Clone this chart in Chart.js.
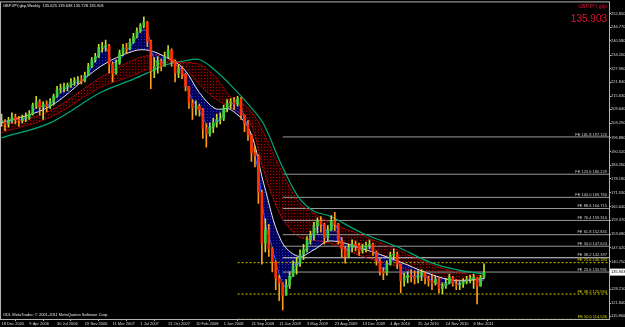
<!DOCTYPE html>
<html>
<head>
<meta charset="utf-8">
<script src="https://cdn.jsdelivr.net/npm/chart.js@4.4.1/dist/chart.umd.min.js"></script>
<style>
  html, body { margin: 0; padding: 0; background: #000; }
  canvas { display: block; }
</style>
</head>
<body>
<canvas id="chart" width="625" height="327"></canvas>
<script>
// header texts
const title = 'GBPJPY,gbp,Weekly  135.625 139.638 135.728 135.903';
const symbolName = 'GBPJPY,gbp';
const bidPrice = 135.903;
const copyright = 'ODL MetaTrader, \u00a9 2001-2011 MetaQuotes Software Corp.';

// x axis: week number counted from 18 Dec 2005
const dateLabels = ['18 Dec 2005', '9 Apr 2006', '30 Jul 2006', '19 Nov 2006', '11 Mar 2007', '1 Jul 2007',
  '21 Oct 2007', '10 Feb 2008', '1 Jun 2008', '21 Sep 2008', '11 Jan 2009', '3 May 2009',
  '23 Aug 2009', '13 Dec 2009', '4 Apr 2010', '25 Jul 2010', '14 Nov 2010', '6 Mar 2011'];
const dateWeeks = [0, 16, 32, 48, 64, 80, 96, 112, 128, 144, 160, 176, 192, 208, 224, 240, 256, 272];

// y axis labels
const priceTicks = [252.850, 246.770, 240.580, 234.200, 227.960, 221.840, 215.630, 209.640, 203.290,
  196.880, 190.520, 184.260, 178.180, 171.930, 165.640, 159.370, 153.080, 147.020, 140.750,
  128.210, 121.840, 115.860];

// price bars, one every 2 weeks
const closes = [
  204.0, 203.0, 204.5, 206.0, 205.0, 204.5, 205.5, 206.0, 207.5, 211.5,
  213.0, 210.5, 212.0, 211.0, 213.0, 215.5, 218.5, 219.0, 220.0, 220.5,
  222.0, 222.5, 223.0, 222.5, 225.0, 229.0, 232.0, 233.5, 237.5, 238.0,
  238.5, 230.0, 226.0, 230.5, 235.0, 237.5, 237.0, 240.0, 242.5, 245.0,
  247.5, 249.0, 240.5, 227.0, 229.0, 231.5, 229.0, 233.5, 236.5, 231.5,
  226.0, 228.0, 225.5, 220.0, 212.5, 210.5, 211.0, 209.5, 201.0, 198.5,
  201.5, 203.5, 205.0, 205.5, 210.0, 212.5, 213.0, 212.0, 214.5, 207.0,
  203.0, 198.0, 190.0, 188.5, 172.0, 149.0, 155.0, 146.5, 140.5, 133.0,
  131.0, 125.5, 130.0, 134.0, 138.5, 140.0, 144.0, 146.0, 150.5, 152.5,
  157.0, 159.0, 157.5, 151.5, 155.0, 159.0, 157.5, 150.0, 146.5, 143.0,
  147.0, 148.5, 148.0, 145.5, 146.5, 148.0, 148.5, 145.0, 141.0, 136.0,
  135.5, 139.5, 143.5, 144.0, 139.5, 132.0, 133.5, 134.5, 134.0, 133.0,
  134.5, 135.5, 133.0, 132.0, 131.0, 132.5, 128.5, 129.5, 131.0, 133.5,
  130.5, 130.0, 130.5, 131.5, 132.5, 133.0, 133.5, 129.5, 133.5, 135.903
];
const highs = [
  207.5, 205.0, 206.0, 208.0, 207.5, 206.5, 207.0, 208.0, 209.0, 212.5,
  215.5, 214.0, 213.0, 213.5, 214.5, 216.5, 220.0, 221.0, 221.5, 221.5,
  223.5, 224.0, 224.5, 225.0, 226.5, 230.5, 233.0, 235.0, 239.0, 240.0,
  241.0, 239.0, 231.0, 232.0, 236.5, 239.0, 239.5, 241.5, 244.0, 246.5,
  248.5, 251.5, 249.5, 241.0, 233.0, 233.5, 232.5, 235.5, 238.5, 237.0,
  232.0, 230.0, 229.0, 226.0, 220.0, 214.0, 213.5, 212.0, 210.0, 203.0,
  203.5, 205.5, 207.5, 208.0, 211.5, 214.0, 214.5, 215.0, 215.5, 215.0,
  207.0, 204.5, 198.5, 193.0, 189.0, 173.0, 160.0, 157.5, 147.0, 141.0,
  134.5, 131.0, 132.5, 136.0, 141.0, 142.5, 146.0, 148.5, 152.0, 154.5,
  158.5, 160.5, 161.0, 158.0, 157.0, 161.5, 163.0, 158.0, 151.5, 147.5,
  148.5, 150.5, 150.0, 149.0, 148.5, 149.5, 150.5, 149.0, 145.5, 142.0,
  138.0, 141.0, 145.0, 146.5, 145.0, 139.5, 135.5, 136.0, 137.0, 136.5,
  136.5, 137.0, 136.0, 134.0, 134.5, 134.0, 133.0, 131.0, 133.0, 135.0,
  134.0, 132.5, 131.5, 133.0, 134.0, 134.5, 135.0, 133.5, 134.5, 139.638
];
const lows = [
  202.0, 200.0, 201.5, 203.5, 203.0, 202.0, 203.5, 204.0, 205.0, 207.0,
  210.0, 207.0, 205.0, 208.5, 210.0, 211.5, 215.0, 217.0, 217.5, 218.0,
  219.5, 220.5, 221.0, 221.0, 222.0, 225.0, 228.5, 231.0, 233.0, 235.5,
  236.0, 226.0, 222.0, 225.5, 230.0, 234.0, 235.0, 236.5, 239.5, 242.0,
  244.5, 246.5, 238.0, 219.0, 224.0, 226.0, 227.0, 229.5, 233.0, 229.0,
  222.0, 224.0, 223.5, 218.0, 210.0, 205.0, 207.0, 206.5, 196.5, 192.5,
  197.5, 199.0, 201.5, 203.0, 204.5, 208.5, 210.0, 209.5, 211.0, 205.0,
  199.5, 195.5, 186.0, 183.5, 167.0, 139.5, 145.0, 143.0, 136.0, 128.0,
  123.0, 118.8, 125.5, 128.5, 134.0, 135.0, 138.5, 141.5, 145.0, 148.5,
  150.5, 153.5, 154.0, 148.5, 150.0, 154.5, 154.5, 148.5, 142.5, 140.0,
  142.5, 145.0, 145.5, 143.5, 144.5, 145.0, 146.5, 143.5, 139.0, 134.5,
  132.5, 134.5, 139.0, 142.0, 137.5, 126.5, 129.5, 131.0, 131.5, 130.5,
  131.0, 132.0, 130.5, 129.5, 128.0, 130.0, 126.5, 126.0, 128.5, 130.5,
  129.5, 128.0, 128.0, 129.0, 130.5, 131.0, 128.5, 121.5, 129.5, 133.0
];

// moving average ribbon
const blueWeeks = [0, 4, 8, 12, 16, 20, 24, 28, 32, 36, 40, 44, 48, 52, 56, 60, 64, 68, 72, 76, 80, 84,
  88, 92, 96, 100, 104, 108, 112, 116, 120, 124, 128, 132, 136, 140, 144, 148, 152, 156, 160, 164, 168,
  172, 176, 180, 184, 188, 192, 196, 200, 204, 208, 212, 216, 220, 224, 228, 232, 236, 240, 244, 248,
  252, 256, 260, 264, 268, 272, 276, 278];
const blueValues = [204.5, 204, 205, 205, 206.5, 210.5, 211, 212, 215.5, 218.5, 220.5, 222, 223.5, 229,
  234.5, 237.5, 231, 232, 236, 240, 245, 245, 232, 230.5, 233.5, 230, 227, 217, 211.5, 206, 201, 203.5,
  207.5, 211.5, 213, 206, 195, 181, 158, 147, 135, 129, 135, 141, 147.5, 154, 157.5, 154.5, 157.5, 150,
  145.5, 147.5, 146.5, 147.5, 143, 137, 140.5, 141, 134, 134, 134, 134, 132, 130.5, 130, 131.5, 130.5,
  132, 133, 131.5, 133];
const maWeeks = [0, 28, 57, 76, 85, 95, 105, 114, 123, 132, 143, 151, 161, 171, 180, 189, 208, 228, 247, 262, 278];
const whiteValues = [203.5, 211, 229, 236, 236.3, 233.1, 228, 217.2, 210, 209.5, 200, 176.2, 150.3, 143,
  146, 150, 146.5, 141, 135, 132, 133];
const redInnerValues = [202, 209, 224, 232, 234, 233.5, 229, 220.8, 214.5, 210.4, 204, 182, 161.3, 152.1,
  150.3, 149, 143, 138.5, 134, 132.5, 132];
const redOuterValues = [199, 206, 219.5, 225, 228.1, 230.8, 230.8, 230, 224.5, 215.4, 209.5, 199, 182.2,
  168, 162.5, 158.5, 152.5, 146, 139.5, 136, 134];
const greenValues = [196.7, 203.5, 217.2, 223.3, 226.4, 229.9, 231.5, 232.2, 227.3, 220.6, 211.2, 203,
  185, 170, 163.5, 161.3, 153.5, 147.4, 140.3, 137, 135];

// fibonacci expansion levels
const greyFeLabels = ['FE 161.8 197.120', 'FE 123.6 180.229', 'FE 100.0 169.760', 'FE 88.6 164.715',
  'FE 76.4 159.310', 'FE 61.8 152.845', 'FE 50.0 147.624', 'FE 38.2 142.397', 'FE 23.6 135.931'];
const greyFeValues = [197.120, 180.229, 169.760, 164.715, 159.310, 152.845, 147.624, 142.397, 135.931];
const greyFeStart = 162;
const yellowFeLabels = ['FE 23.6 140.183', 'FE 38.2 125.994', 'FE 50.0 114.536'];
const yellowFeValues = [140.183, 125.994, 114.536];
const yellowFeStart = 136;

const xMax = 350;
const fontFamily = '"Liberation Sans", Arial, sans-serif';
const axisColor = '#b4b4b4';

// dotted textures so the ribbons look like bundles of dotted lines
function dotPattern(dot, back) {
  const c = document.createElement('canvas');
  c.width = 3; c.height = 3;
  const g = c.getContext('2d');
  g.fillStyle = back; g.fillRect(0, 0, 3, 3);
  g.fillStyle = dot; g.fillRect(0, 0, 1, 1);
  return g.createPattern(c, 'repeat');
}
const redRibbon = dotPattern('rgba(190, 0, 0, 0.85)', 'rgba(55, 0, 0, 0.55)');
const blueRibbon = dotPattern('rgba(30, 50, 220, 0.9)', 'rgba(0, 0, 105, 0.85)');

const candleWeeks = closes.map((c, i) => i * 2);
const opens = closes.map((c, i) => (i === 0 ? c : closes[i - 1]));
const isUp = closes.map((c, i) => c >= opens[i]);

const pts = (xs, ys) => xs.map((x, i) => ({ x: x, y: ys[i] }));

const datasets = [
  {
    type: 'bar', label: 'body',
    data: candleWeeks.map((w, i) => ({ x: w, y: [opens[i], closes[i]] })),
    backgroundColor: isUp.map(u => (u ? '#3cd23c' : '#ff3000')),
    barThickness: 2, minBarLength: 1, grouped: false
  },
  {
    type: 'bar', label: 'wick',
    data: candleWeeks.map((w, i) => ({ x: w, y: [lows[i], highs[i]] })),
    backgroundColor: isUp.map(u => (u ? '#c8dc28' : '#ff9a1a')),
    barThickness: 1, grouped: false
  },
  {
    type: 'line', label: 'blue', data: pts(blueWeeks, blueValues),
    borderColor: '#3a5cff', borderWidth: 1, pointRadius: 0, tension: 0.35,
    fill: { target: 3 }, backgroundColor: blueRibbon
  },
  {
    type: 'line', label: 'white', data: pts(maWeeks, whiteValues),
    borderColor: '#e6e6e6', borderWidth: 1, pointRadius: 0, tension: 0.35, fill: false
  },
  {
    type: 'line', label: 'red fast', data: pts(maWeeks, redInnerValues),
    borderColor: '#d01010', borderWidth: 1, borderDash: [2, 1], pointRadius: 0, tension: 0.35, fill: false
  },
  {
    type: 'line', label: 'red slow', data: pts(maWeeks, redOuterValues),
    borderColor: '#c00000', borderWidth: 1, borderDash: [2, 1], pointRadius: 0, tension: 0.35,
    fill: { target: 4 }, backgroundColor: redRibbon
  },
  {
    type: 'line', label: 'green', data: pts(maWeeks, greenValues),
    borderColor: '#00a878', borderWidth: 1.2, pointRadius: 0, tension: 0.35, fill: false
  }
];

greyFeValues.forEach((v, i) => {
  datasets.push({
    type: 'line', label: greyFeLabels[i],
    data: [{ x: greyFeStart, y: v }, { x: xMax, y: v }],
    borderColor: i === 7 ? '#d8d8d8' : '#9a9a9a', borderWidth: 1, pointRadius: 0, fill: false
  });
});
yellowFeValues.forEach((v, i) => {
  datasets.push({
    type: 'line', label: yellowFeLabels[i],
    data: [{ x: yellowFeStart, y: v }, { x: xMax, y: v }],
    borderColor: '#c8c800', borderWidth: 1, borderDash: [2, 2], pointRadius: 0, fill: false
  });
});

const overlay = {
  id: 'overlay',
  beforeDraw(chart) {
    const ctx = chart.ctx;
    ctx.save();
    ctx.fillStyle = '#000';
    ctx.fillRect(0, 0, chart.width, chart.height);
    ctx.restore();
  },
  afterDraw(chart) {
    const { ctx, chartArea: area, scales } = chart;
    const y = scales.y;
    ctx.save();
    ctx.strokeStyle = axisColor;
    ctx.lineWidth = 1;
    ctx.strokeRect(area.left - 0.5, area.top - 0.5, area.right - area.left + 1, area.bottom - area.top + 1);

    // level captions
    ctx.font = '4px ' + fontFamily;
    ctx.textAlign = 'right';
    ctx.textBaseline = 'bottom';
    greyFeValues.forEach((v, i) => {
      ctx.fillStyle = '#d0d0d0';
      ctx.fillText(greyFeLabels[i], area.right - 2, y.getPixelForValue(v) - 0.5);
    });
    yellowFeValues.forEach((v, i) => {
      ctx.fillStyle = '#d8d800';
      ctx.fillText(yellowFeLabels[i], area.right - 2, Math.min(y.getPixelForValue(v), area.bottom) - 0.5);
    });

    // title and copyright
    ctx.textAlign = 'left';
    ctx.textBaseline = 'middle';
    ctx.fillStyle = '#e8e8e8';
    ctx.fillText(title, area.left + 2, area.top + 3.5);
    ctx.fillText(copyright, area.left + 2, area.bottom - 4);

    // symbol and big bid price
    ctx.textAlign = 'right';
    ctx.fillStyle = '#dc1438';
    ctx.font = '5px ' + fontFamily;
    ctx.fillText(symbolName, area.right - 2, area.top + 4.5);
    ctx.font = '10px ' + fontFamily;
    ctx.fillText(bidPrice.toFixed(3), area.right - 2, area.top + 17);

    // bid label on the price axis
    const by = y.getPixelForValue(bidPrice);
    ctx.fillStyle = '#ffffff';
    ctx.fillRect(area.right + 1, by - 3.5, chart.width - area.right - 1, 7);
    ctx.fillStyle = '#000000';
    ctx.font = '4px ' + fontFamily;
    ctx.textAlign = 'left';
    ctx.fillText(bidPrice.toFixed(3), area.right + 2, by);
    ctx.restore();
  }
};

new Chart(document.getElementById('chart'), {
  type: 'bar',
  data: { datasets: datasets },
  options: {
    responsive: false,
    animation: false,
    layout: { padding: { top: 2, left: 1, right: 0, bottom: 0 } },
    plugins: {
      legend: { display: false },
      tooltip: { enabled: false },
      filler: { drawTime: 'beforeDatasetsDraw' }
    },
    scales: {
      x: {
        type: 'linear',
        min: -0.3,
        max: xMax,
        offset: false,
        afterBuildTicks: scale => { scale.ticks = dateWeeks.map(w => ({ value: w })); },
        afterFit: scale => { scale.height = 8; },
        ticks: {
          color: '#d8d8d8',
          font: { size: 4, family: fontFamily },
          align: 'start',
          maxRotation: 0,
          autoSkip: false,
          padding: 0,
          callback: (value, index) => dateLabels[index]
        },
        grid: { drawOnChartArea: false, tickLength: 2, color: axisColor },
        border: { display: false }
      },
      y: {
        position: 'right',
        min: 114.67,
        max: 258.04,
        afterBuildTicks: scale => { scale.ticks = priceTicks.map(v => ({ value: v })); },
        afterFit: scale => { scale.width = 16; },
        ticks: {
          color: '#d8d8d8',
          font: { size: 4, family: fontFamily },
          padding: 0,
          callback: value => value.toFixed(3)
        },
        grid: { drawOnChartArea: false, tickLength: 2, color: axisColor },
        border: { display: false }
      }
    }
  },
  plugins: [overlay]
});
</script>
</body>
</html>
